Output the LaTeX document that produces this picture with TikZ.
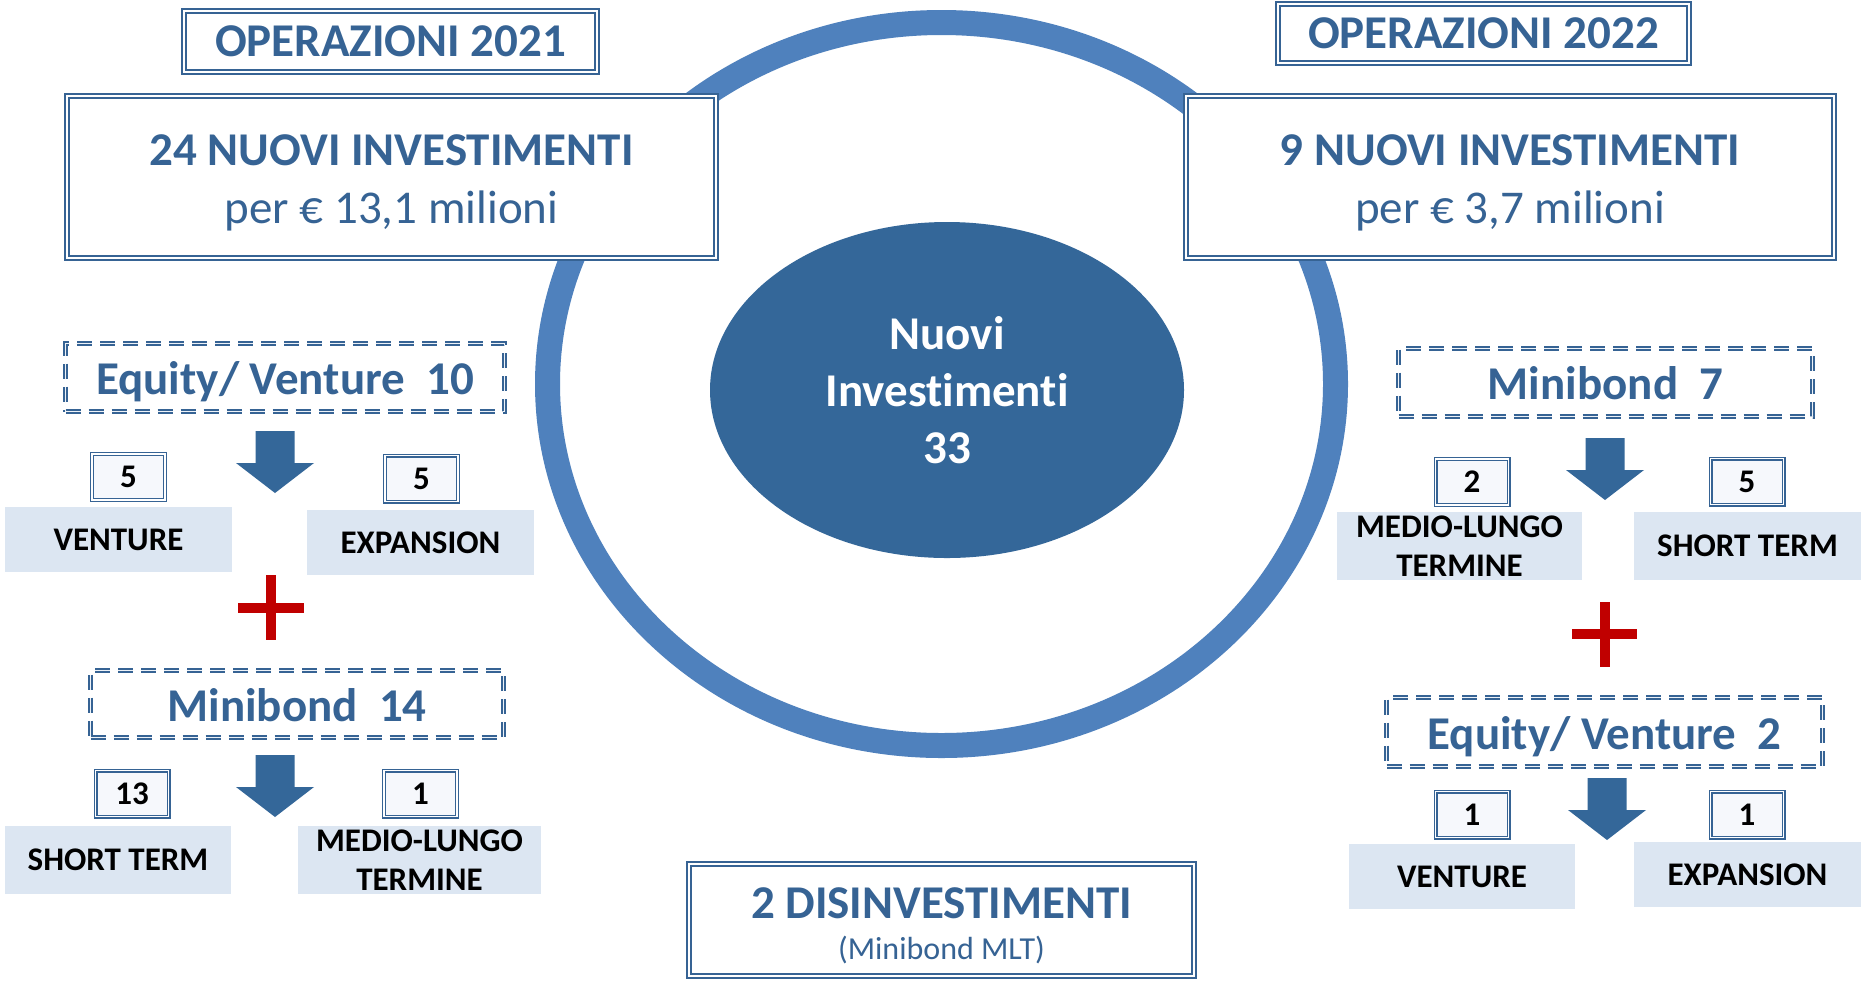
\documentclass[tikz,border=0pt]{standalone}
\usepackage{fontspec}
\setmainfont{Carlito}[Ligatures=NoCommon]
\usetikzlibrary{shapes.geometric}
\definecolor{dkblue}{RGB}{54,99,148}
\definecolor{ringblue}{RGB}{79,129,189}
\definecolor{midblue}{RGB}{52,103,153}
\definecolor{pale}{RGB}{220,230,242}
\definecolor{plusred}{RGB}{192,0,0}
\definecolor{boxwhite}{RGB}{246,248,252}
\begin{document}
\begin{tikzpicture}[x=0.5pt,y=-0.5pt,
    opbox/.style={rectangle,draw=dkblue,double=white,line width=0.9pt,double distance=1.2pt,fill=white,text=dkblue,inner sep=0pt,align=center,font=\bfseries\fontsize{23.5}{29}\selectfont},
    dashbox/.style={rectangle,draw=dkblue,double=pale!50!white,line width=0.9pt,double distance=0.35pt,dash pattern=on 7.5pt off 4pt,fill=white,text=dkblue,inner sep=0pt,text height=17pt,text depth=0pt,font=\bfseries\fontsize{23.5}{29}\selectfont},
    numbox/.style={rectangle,draw=dkblue,double=white,line width=0.6pt,double distance=0.8pt,fill=boxwhite,minimum width=36.5pt,minimum height=23pt,inner sep=0pt,font=\bfseries\fontsize{16.5}{18.5}\selectfont},
    catbox/.style={rectangle,fill=pale,inner sep=0pt,align=center,font=\bfseries\fontsize{16.5}{19.5}\selectfont},
    tot/.style={ellipse,fill=midblue,text=white,minimum width=237pt,minimum height=168pt,inner sep=0pt,align=center,font=\bfseries\fontsize{23.5}{28.5}\selectfont},
    plus/.style={draw=plusred,line width=5pt}]

    \useasboundingbox[fill=white] (0,0) rectangle (1861,981);

    \draw[ringblue,line width=12.5pt] (941.5,384) ellipse [x radius=197pt,y radius=180.75pt];
    \node[tot] (0) at (947,390) {Nuovi\\Investimenti\\33};

    \node[opbox,minimum width=206.5pt,minimum height=30.5pt] (1) at (390.5,41.5) {OPERAZIONI 2021};
    \node[opbox,minimum width=205.5pt,minimum height=29.5pt] (2) at (1483.5,33.5) {OPERAZIONI 2022};
    \node[opbox,minimum width=324.5pt,minimum height=81pt] (3) at (391.5,177) {\rule{0pt}{21pt}24 NUOVI INVESTIMENTI\\{\mdseries per € 13,1 milioni}};
    \node[opbox,minimum width=324pt,minimum height=81pt] (4) at (1510,177) {\rule{0pt}{21pt}9 NUOVI INVESTIMENTI\\{\mdseries per € 3,7 milioni}};
    \node[opbox,minimum width=252.5pt,minimum height=56pt] (5) at (941.5,920) {\rule{0pt}{21pt}2 DISINVESTIMENTI\\[-8.5pt]{\mdseries\fontsize{16}{19}\selectfont (Minibond MLT)}};

    \node[dashbox,minimum width=219.5pt,minimum height=34pt] (6) at (285,377.5) {Equity/ Venture~~10};
    \node[numbox] (7) at (128.5,477) {5};
    \node[numbox] (8) at (421.5,478.5) {5};
    \node[catbox,minimum width=113.5pt,minimum height=32.5pt] (9) at (118.5,539.5) {VENTURE};
    \node[catbox,minimum width=113.5pt,minimum height=32.5pt] (10) at (420.5,542.5) {EXPANSION};

    \node[dashbox,minimum width=206.5pt,minimum height=33.5pt] (11) at (297,704) {Minibond~~14};
    \node[numbox] (12) at (132,793.5) {13};
    \node[numbox] (13) at (420.5,793.5) {1};
    \node[catbox,minimum width=113pt,minimum height=34pt] (14) at (118,860) {SHORT TERM};
    \node[catbox,minimum width=121.5pt,minimum height=34pt] (15) at (419.5,860) {MEDIO-LUNGO\\TERMINE};

    \node[dashbox,minimum width=207pt,minimum height=34pt] (16) at (1605.5,382.5) {Minibond~~7};
    \node[numbox] (17) at (1472,482) {2};
    \node[numbox] (18) at (1747,481.5) {5};
    \node[catbox,minimum width=122.5pt,minimum height=34pt] (19) at (1459.5,546) {MEDIO-LUNGO\\TERMINE};
    \node[catbox,minimum width=113.5pt,minimum height=34pt] (20) at (1747.5,546) {SHORT TERM};

    \node[dashbox,minimum width=218pt,minimum height=34.5pt] (21) at (1604.5,732) {Equity/ Venture~~2};
    \node[numbox] (22) at (1472,814.5) {1};
    \node[numbox] (23) at (1747,814.5) {1};
    \node[catbox,minimum width=113pt,minimum height=32.5pt] (24) at (1462,876.5) {VENTURE};
    \node[catbox,minimum width=113.5pt,minimum height=32.5pt] (25) at (1747.5,874.5) {EXPANSION};

    \foreach \ax/\ay in {275/431,275/755,1605/438,1607/778}
        \fill[midblue] (\ax-19.5,\ay) -- ++(39,0) -- ++(0,32) -- ++(19.5,0) -- ++(-39,30) -- ++(-39,-30) -- ++(19.5,0) -- cycle;

    \draw[plus] (271,575) -- (271,640) (238,608) -- (304,608);
    \draw[plus] (1604.5,602) -- (1604.5,667) (1572,634) -- (1637,634);
\end{tikzpicture}
\end{document}
